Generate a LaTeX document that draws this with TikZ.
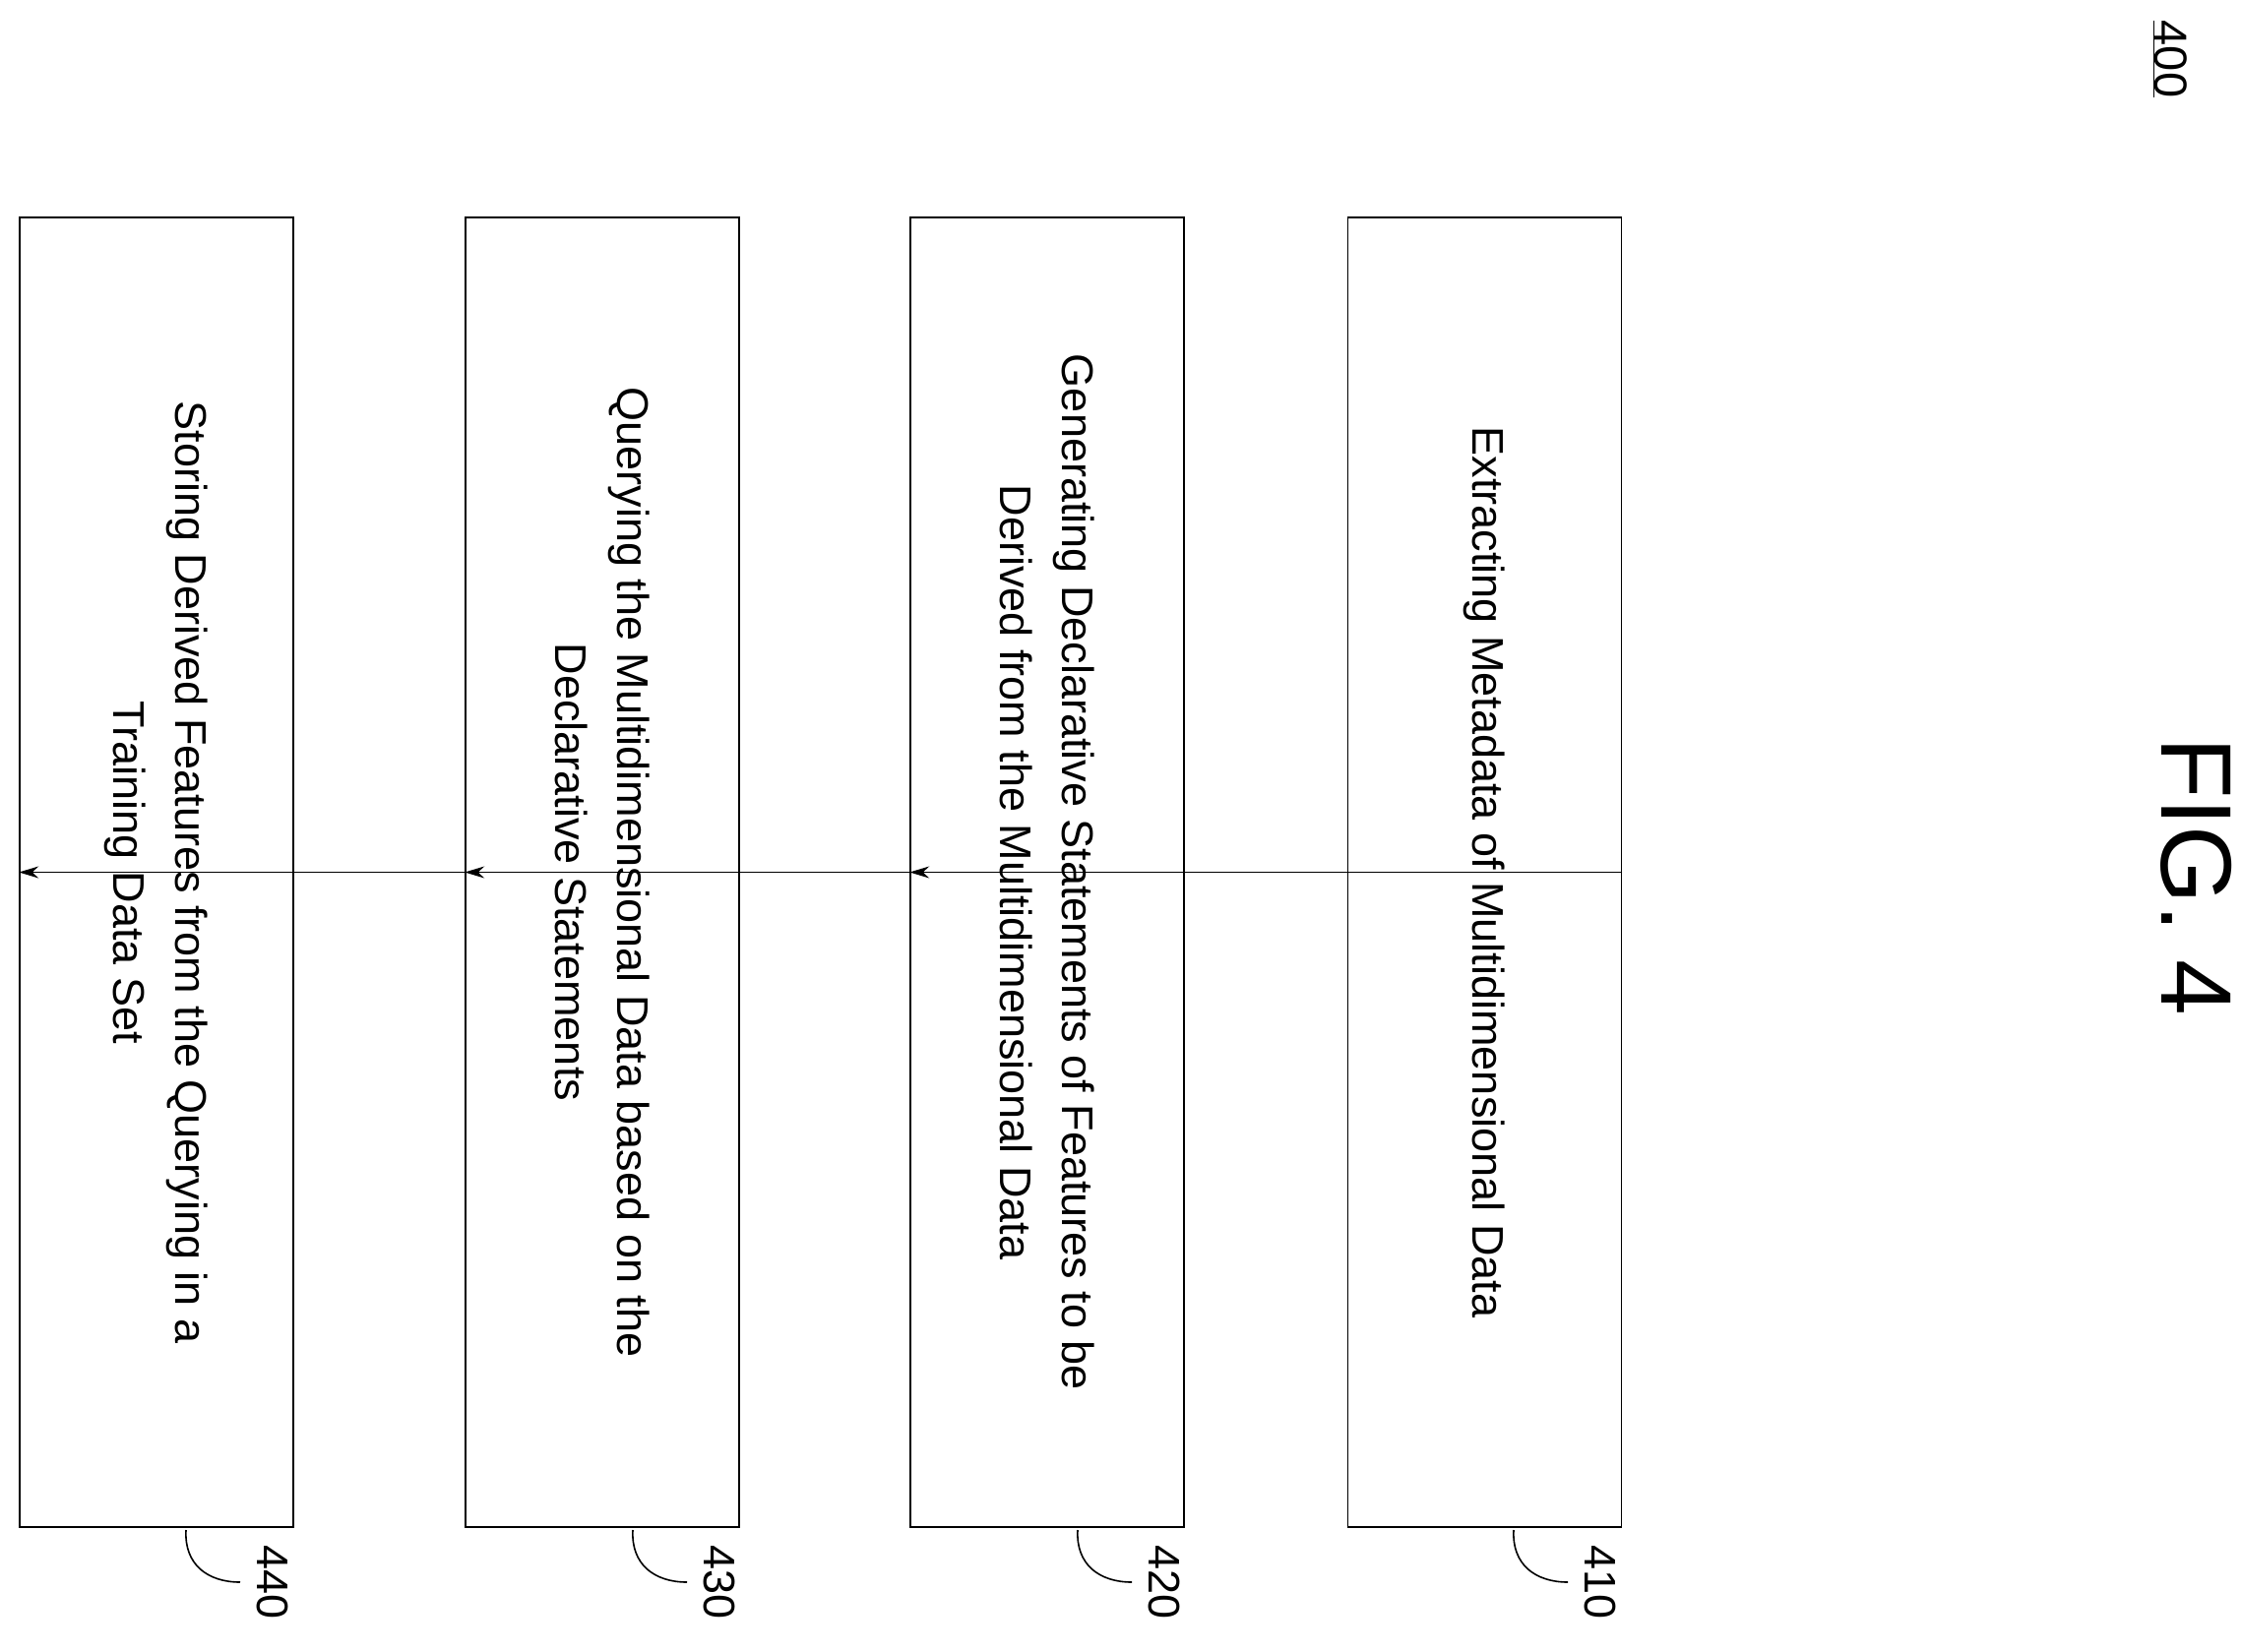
\documentclass[tikz,border=0pt]{standalone}
\usepackage{fontspec}
\setmainfont{Liberation Sans}
\begin{document}
\begin{tikzpicture}[x=1pt,y=-1pt,
 box/.style={draw,line width=1.6pt,minimum width=1331pt,minimum height=278pt,rotate=-90,anchor=center},
 txt/.style={rotate=-90,align=center,font=\fontsize{45}{63}\selectfont},
 arr/.style={-{Stealth[length=20pt,width=12pt]},line width=1.6pt},
 lbl/.style={rotate=-90,font=\fontsize{45}{54}\selectfont}]
\usetikzlibrary{arrows.meta}
\useasboundingbox (0,0) rectangle (2277,1678);
\node[box] (b410) at (1508.5,886.5) {};
\node[box] (b420) at (1064,886.5) {};
\node[box] (b430) at (612,886.5) {};
\node[box] (b440) at (159,886.5) {};
\node[txt] at (b410) {Extracting Metadata of Multidimensional Data};
\node[txt] at (b420) {Generating Declarative Statements of Features to be\\Derived from the Multidimensional Data};
\node[txt] at (b430) {Querying the Multidimensional Data based on the\\Declarative Statements};
\node[txt] at (b440) {Storing Derived Features from the Querying in a\\Training Data Set};
\draw[arr] (b410.north) -- (b420.south);
\draw[arr] (b420.north) -- (b430.south);
\draw[arr] (b430.north) -- (b440.south);
\foreach \n/\s in {410/0,420/-443,430/-895,440/-1349}{
  \begin{scope}[xshift=\s]
  \coordinate (c\n) at (1538,1555);
  \draw[line width=1.6pt] (c\n) .. controls (1536,1590) and (1560,1608) .. (1593,1608);
  \node[lbl] (l\n) at (1626,1608) {\n};
  \end{scope}
}
\node[rotate=-90,font=\fontsize{102}{110}\selectfont] (fig) at (2232,891) {FIG. 4};
\node[rotate=-90,font=\fontsize{47}{56}\selectfont] (n400) at (2205,60) {\underline{400}};
\end{tikzpicture}
\end{document}
